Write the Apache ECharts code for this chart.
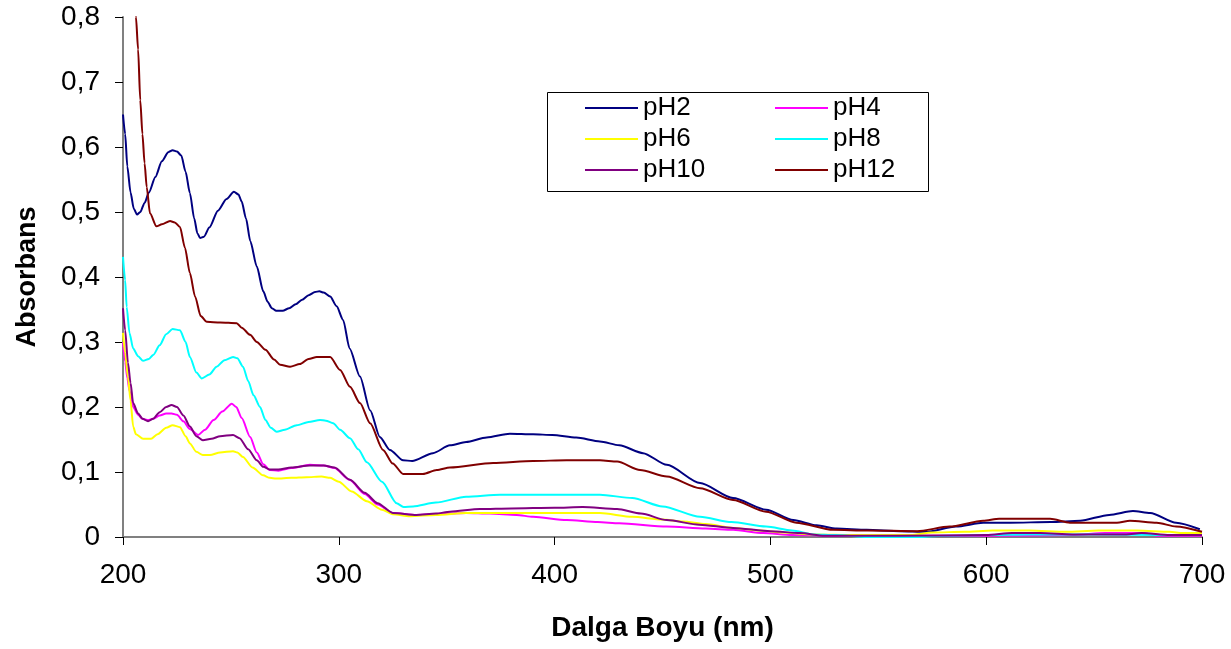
<!DOCTYPE html>
<html>
<head>
<meta charset="utf-8">
<script src="https://cdn.jsdelivr.net/npm/echarts@6/dist/echarts.min.js"></script>
<style>
  html, body { margin: 0; padding: 0; background: #fff; }
  #chart { width: 1231px; height: 649px; }
</style>
</head>
<body>
<div id="chart"></div>
<script>
// Absorbance spectra (200-700 nm) at six pH values
const seriesNames = ['pH2', 'pH4', 'pH6', 'pH8', 'pH10', 'pH12'];
const seriesColors = ['#000080', '#FF00FF', '#FFFF00', '#00FFFF', '#800080', '#800000'];
const legendColumnA = ['pH2', 'pH6', 'pH10'];
const legendColumnB = ['pH4', 'pH8', 'pH12'];
const yTickLabels = ['0', '0,1', '0,2', '0,3', '0,4', '0,5', '0,6', '0,7', '0,8'];

const ph2Nm = [200, 201, 202, 203.5, 205, 206.5, 208, 210, 212, 215, 218, 221, 223, 225, 227, 229, 231, 233, 234.5, 235.7, 237.5, 240, 244, 248, 251.4, 253.5, 255, 257, 259, 262, 265, 267, 269, 271, 274, 277, 280, 283, 286, 289, 291, 293, 296, 299, 302, 305, 309.8, 314.5, 319, 323.7, 329.8, 334, 343.6, 351.5, 359, 368.5, 379.3, 390, 399, 410, 421, 430, 441, 452, 467.4, 482.7, 498, 510.6, 521.4, 530.7, 544.6, 560, 572, 586, 598.6, 611, 630, 643.5, 657, 668, 676, 688, 699];
const ph2Abs = [0.65, 0.62, 0.57, 0.53, 0.505, 0.496, 0.5, 0.514, 0.53, 0.554, 0.578, 0.592, 0.595, 0.593, 0.587, 0.562, 0.529, 0.49, 0.467, 0.46, 0.462, 0.476, 0.502, 0.52, 0.531, 0.527, 0.516, 0.49, 0.455, 0.416, 0.378, 0.362, 0.352, 0.348, 0.348, 0.352, 0.358, 0.365, 0.372, 0.377, 0.378, 0.376, 0.37, 0.355, 0.334, 0.29, 0.247, 0.195, 0.154, 0.134, 0.118, 0.117, 0.129, 0.141, 0.146, 0.153, 0.159, 0.158, 0.157, 0.153, 0.147, 0.141, 0.129, 0.111, 0.083, 0.06, 0.042, 0.026, 0.018, 0.013, 0.011, 0.009, 0.008, 0.016, 0.022, 0.022, 0.023, 0.025, 0.034, 0.04, 0.037, 0.022, 0.012];

const ph4Nm = [200, 201, 202, 203, 204.7, 207, 209, 211.6, 214, 217, 220, 222.5, 225, 228, 231, 234.8, 238, 242, 246, 250.4, 252.5, 255, 258.9, 262, 265, 268, 272, 278, 286.6, 293, 298, 305, 312, 318, 325, 336, 350, 359, 370, 382.4, 390, 405.6, 420, 430, 452, 470, 482.7, 496.6, 510, 530, 560, 600, 640, 655, 662, 672, 680, 700];
const ph4Abs = [0.3, 0.27, 0.245, 0.225, 0.2, 0.188, 0.182, 0.18, 0.182, 0.187, 0.19, 0.19, 0.188, 0.178, 0.166, 0.157, 0.165, 0.18, 0.193, 0.205, 0.2, 0.183, 0.154, 0.13, 0.112, 0.103, 0.102, 0.106, 0.111, 0.11, 0.106, 0.088, 0.066, 0.05, 0.037, 0.034, 0.036, 0.037, 0.036, 0.034, 0.031, 0.026, 0.023, 0.021, 0.016, 0.013, 0.011, 0.006, 0.003, 0.002, 0.002, 0.002, 0.003, 0.006, 0.006, 0.006, 0.002, 0.002];

const ph6Nm = [200, 201, 202.3, 203.5, 204.7, 206, 209.3, 213, 216, 220, 223, 226.4, 229, 231, 234, 237, 240.3, 245, 251, 253, 255.6, 260, 264.9, 268, 271, 278, 285, 292, 296, 300, 306, 313, 320, 325, 333, 345, 359, 380, 400, 421, 436, 450, 459.5, 470, 482.7, 495, 505.8, 520, 540, 565, 575, 590, 603, 620, 637, 652, 670, 685, 691, 700];
const ph6Abs = [0.314, 0.283, 0.246, 0.21, 0.17, 0.158, 0.151, 0.151, 0.158, 0.168, 0.172, 0.169, 0.155, 0.144, 0.131, 0.126, 0.126, 0.13, 0.132, 0.13, 0.123, 0.107, 0.095, 0.091, 0.09, 0.091, 0.092, 0.093, 0.091, 0.085, 0.07, 0.055, 0.042, 0.035, 0.032, 0.034, 0.037, 0.037, 0.037, 0.037, 0.031, 0.027, 0.024, 0.02, 0.014, 0.01, 0.007, 0.004, 0.003, 0.003, 0.007, 0.008, 0.01, 0.01, 0.008, 0.01, 0.01, 0.008, 0.006, 0.006];

const ph8Nm = [200, 201, 201.7, 203, 204.7, 207, 209.3, 212, 214, 217, 220, 223, 226.4, 229, 231, 234, 236.5, 240, 243.4, 247, 251, 253, 255.6, 258, 260.5, 263.5, 266, 268.5, 271.2, 275, 280.5, 286, 291.3, 294, 297.4, 300.6, 305.2, 309, 313, 320, 326.8, 330, 334.4, 345, 359, 374.7, 400, 421, 436, 450, 467.4, 482, 498, 510, 520, 530, 545, 570, 580, 600, 620, 650, 680, 700];
const ph8Abs = [0.431, 0.395, 0.354, 0.314, 0.29, 0.278, 0.271, 0.274, 0.28, 0.295, 0.312, 0.32, 0.318, 0.3, 0.277, 0.253, 0.244, 0.25, 0.262, 0.272, 0.277, 0.275, 0.262, 0.24, 0.218, 0.2, 0.18, 0.168, 0.162, 0.165, 0.172, 0.177, 0.18, 0.179, 0.175, 0.165, 0.152, 0.135, 0.115, 0.085, 0.052, 0.046, 0.047, 0.053, 0.062, 0.065, 0.065, 0.065, 0.06, 0.047, 0.031, 0.023, 0.016, 0.01, 0.004, 0.003, 0.0, 0.0, 0.002, 0.003, 0.004, 0.004, 0.003, 0.003];

const ph10Nm = [200, 201, 202.3, 203.5, 204.7, 207, 209, 211.6, 214, 217, 220, 222.5, 225, 228, 231, 234, 237, 241, 245, 251, 254, 258, 262, 265, 268, 272, 278, 286.6, 293, 298, 305.2, 312, 318, 325, 336, 345, 351.5, 365.4, 380, 400, 413, 429, 440, 452, 467, 482.7, 500, 513.7, 525, 560, 600, 612, 625, 640, 665, 672, 685, 700];
const ph10Abs = [0.352, 0.318, 0.268, 0.237, 0.206, 0.19, 0.182, 0.178, 0.182, 0.192, 0.2, 0.203, 0.2, 0.187, 0.17, 0.155, 0.149, 0.151, 0.155, 0.157, 0.152, 0.135, 0.118, 0.108, 0.104, 0.104, 0.107, 0.11, 0.11, 0.107, 0.088, 0.068, 0.052, 0.037, 0.034, 0.036, 0.039, 0.043, 0.044, 0.045, 0.046, 0.043, 0.036, 0.026, 0.019, 0.014, 0.009, 0.006, 0.002, 0.002, 0.003, 0.006, 0.006, 0.004, 0.004, 0.006, 0.003, 0.003];

const ph12Nm = [204.5, 206, 207, 208, 209, 210, 211, 212.5, 215.5, 218, 221.8, 224, 226.4, 228.7, 231, 233.4, 236, 238.8, 245, 252.7, 255, 258.9, 262, 266, 270, 272.8, 277.4, 282, 286, 289.8, 296, 300.6, 305.2, 309.8, 314.5, 320.5, 325, 329.8, 339, 345.4, 351.5, 371.5, 390, 405.6, 421, 429, 439.6, 452, 467.4, 482.7, 498, 512, 529, 545, 568, 583, 598.6, 606, 629.6, 638.8, 660.6, 666.6, 679, 688, 700];
const ph12Abs = [0.95, 0.8, 0.75, 0.672, 0.62, 0.575, 0.538, 0.498, 0.478, 0.481, 0.486, 0.484, 0.477, 0.445, 0.406, 0.37, 0.34, 0.331, 0.33, 0.329, 0.322, 0.311, 0.3, 0.288, 0.273, 0.265, 0.262, 0.266, 0.274, 0.277, 0.277, 0.257, 0.231, 0.206, 0.175, 0.134, 0.113, 0.097, 0.097, 0.103, 0.107, 0.114, 0.117, 0.118, 0.118, 0.116, 0.103, 0.093, 0.075, 0.057, 0.039, 0.022, 0.011, 0.01, 0.009, 0.016, 0.025, 0.028, 0.028, 0.022, 0.022, 0.025, 0.022, 0.016, 0.008];

const wavelengths = [ph2Nm, ph4Nm, ph6Nm, ph8Nm, ph10Nm, ph12Nm];
const absorbances = [ph2Abs, ph4Abs, ph6Abs, ph8Abs, ph10Abs, ph12Abs];

const zip = (xs, ys) => xs.map((x, i) => [x, ys[i]]);

const chart = echarts.init(document.getElementById('chart'), null, { renderer: 'canvas' });

const font = 'Liberation Sans, Arial, sans-serif';

// One vertical legend per column inside the framed box
const legendColumn = (left, names) => ({
  orient: 'vertical',
  left,
  top: 95,
  padding: 0,
  itemGap: 5,
  itemWidth: 53,
  itemHeight: 2,
  icon: 'rect',
  data: names,
  textStyle: { fontFamily: font, fontSize: 26, color: '#000' },
  selectedMode: false
});

chart.setOption({
  backgroundColor: '#ffffff',
  animation: false,
  grid: { left: 123, right: 29, top: 17, bottom: 112, containLabel: false },
  xAxis: {
    type: 'value',
    min: 200, max: 700, interval: 100,
    name: 'Dalga Boyu (nm)',
    nameLocation: 'middle',
    nameGap: 77,
    nameTextStyle: { fontFamily: font, fontSize: 28, fontWeight: 'bold', color: '#000' },
    axisLine: { show: true, onZero: false, lineStyle: { color: '#808080', width: 2 } },
    axisTick: { show: true, length: 8, lineStyle: { color: '#000', width: 1 } },
    axisLabel: { margin: 24, fontFamily: font, fontSize: 28, color: '#000' },
    splitLine: { show: false }
  },
  yAxis: {
    type: 'value',
    min: 0, max: 0.8, interval: 0.1,
    name: 'Absorbans',
    nameLocation: 'middle',
    nameGap: 82,
    nameRotate: 90,
    nameTextStyle: { fontFamily: font, fontSize: 27, fontWeight: 'bold', color: '#000' },
    axisLine: { show: true, lineStyle: { color: '#808080', width: 2 } },
    axisTick: { show: true, length: 8, lineStyle: { color: '#000', width: 1 } },
    axisLabel: {
      margin: 23, fontFamily: font, fontSize: 28, color: '#000',
      formatter: (v) => yTickLabels[Math.round(v * 10)]
    },
    splitLine: { show: false }
  },
  legend: [legendColumn(585, legendColumnA), legendColumn(775, legendColumnB)],
  graphic: [{
    type: 'rect',
    shape: { x: 547.5, y: 92.5, width: 381, height: 99 },
    style: { fill: 'none', stroke: '#000', lineWidth: 1 },
    silent: true
  }],
  series: seriesNames.map((name, i) => ({
    name,
    type: 'line',
    data: zip(wavelengths[i], absorbances[i]),
    showSymbol: false,
    symbol: 'none',
    clip: true,
    smooth: 0.25,
    smoothMonotone: 'x',
    lineStyle: { color: seriesColors[i], width: 2 },
    itemStyle: { color: seriesColors[i] }
  }))
});
</script>
</body>
</html>
